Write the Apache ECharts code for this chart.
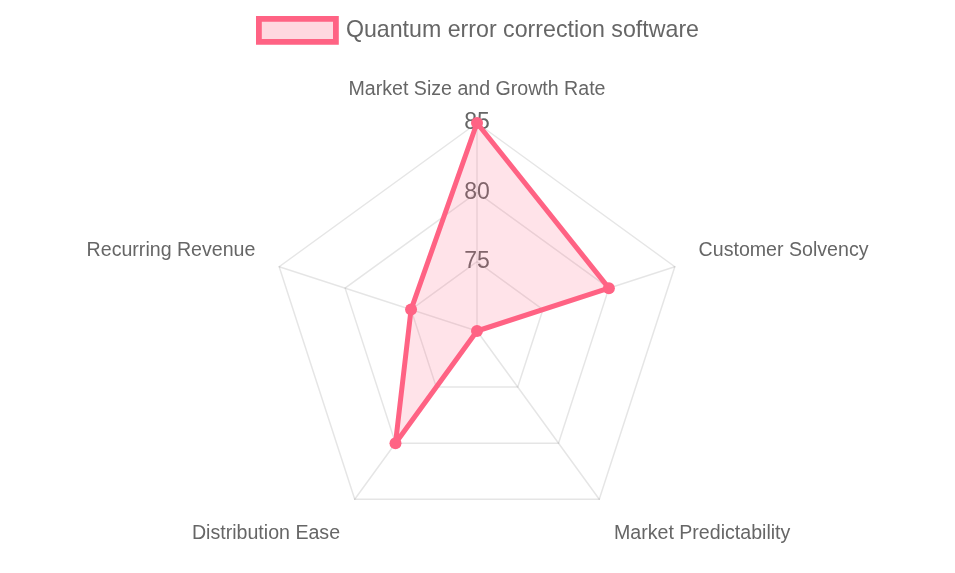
<!DOCTYPE html>
<html>
<head>
<meta charset="utf-8">
<script src="https://cdn.jsdelivr.net/npm/echarts@6/dist/echarts.min.js"></script>
<style>
html,body{margin:0;padding:0;background:#fff;}
#chart{width:955px;height:573px;}
</style>
</head>
<body>
<div id="chart"></div>
<script>
// Data (Chart.js order: clockwise from top)
const seriesName = 'Quantum error correction software';
const categories = ['Market Size and Growth Rate', 'Customer Solvency', 'Market Predictability', 'Distribution Ease', 'Recurring Revenue'];
const values = [85, 80, 70, 80, 75];
const scaleMin = 70;
const scaleMax = 85;
const scaleStep = 5;

// ECharts radar goes counter-clockwise; reorder to draw clockwise
const order = [0].concat(categories.slice(1).map((_, i) => categories.length - 1 - i));
const indicators = order.map(i => ({ name: categories[i], min: scaleMin, max: scaleMax }));
const orderedValues = order.map(i => values[i]);

const FONT = 'Liberation Sans, Arial, Helvetica, sans-serif';
const GREY = '#666';
const PINK = '#ff6384';
const PINK_FILL = 'rgba(255,99,132,0.25)';
const GRID = 'rgba(0,0,0,0.1)';
const NAME_SIZE = 19.6;

const chart = echarts.init(document.getElementById('chart'), null, { renderer: 'canvas' });
chart.setOption({
  animation: false,
  textStyle: { fontFamily: FONT },
  legend: {
    top: 11,
    left: 'center',
    itemWidth: 77,
    itemHeight: 23,
    icon: 'rect',
    itemStyle: { color: PINK_FILL, borderColor: PINK, borderWidth: 5.8 },
    textStyle: { fontSize: 23.2, color: GREY, fontFamily: FONT, padding: [0, 0, 0, 5] },
    data: [seriesName]
  },
  radar: {
    center: [477, 331],
    radius: 208,
    startAngle: 90,
    splitNumber: (scaleMax - scaleMin) / scaleStep,
    shape: 'polygon',
    nameGap: 25,
    indicator: indicators,
    axisName: {
      color: GREY,
      fontSize: NAME_SIZE,
      fontFamily: FONT,
      formatter: function (name) {
        const idx = categories.indexOf(name);
        const n = categories.length;
        const ang = 90 - idx * 360 / n; // clockwise angle in degrees
        const s = Math.sin(ang * Math.PI / 180);
        const c = Math.cos(ang * Math.PI / 180);
        if (Math.abs(c) < 0.01) return '{top|' + name + '}';
        return s > 0 ? '{n|' + name + '}\n{bu| }' : '{bd| }\n{n|' + name + '}';
      },
      rich: {
        top: { fontSize: NAME_SIZE, color: GREY, fontFamily: FONT, lineHeight: 17 },
        n: { fontSize: NAME_SIZE, color: GREY, fontFamily: FONT, lineHeight: 23 },
        bu: { fontSize: NAME_SIZE, fontFamily: FONT, lineHeight: 17 },
        bd: { fontSize: NAME_SIZE, fontFamily: FONT, lineHeight: 29 }
      }
    },
    axisLine: { lineStyle: { color: GRID, width: 1.5 } },
    splitLine: { lineStyle: { color: GRID, width: 1.5 } },
    splitArea: { show: false },
    axisTick: { show: false },
    axisLabel: { show: false }
  },
  polar: {
    center: [477, 331],
    radius: 208
  },
  angleAxis: {
    startAngle: 90,
    show: false,
    min: 0,
    max: 360
  },
  radiusAxis: {
    min: scaleMin,
    max: scaleMax,
    interval: scaleStep,
    z: 0,
    axisLine: { show: false },
    axisTick: { show: false },
    splitLine: { show: false },
    axisLabel: {
      showMinLabel: false,
      color: GREY,
      fontSize: 23,
      fontFamily: FONT,
      margin: 0,
      align: 'center',
      verticalAlign: 'middle',
      padding: [5, 0, 0, 0]
    }
  },
  series: [{
    name: seriesName,
    type: 'radar',
    z: 3,
    symbol: 'circle',
    symbolSize: 12,
    lineStyle: { color: PINK, width: 5 },
    itemStyle: { color: PINK },
    areaStyle: { color: PINK_FILL },
    data: [{ name: seriesName, value: orderedValues }]
  }]
});
</script>
</body>
</html>
